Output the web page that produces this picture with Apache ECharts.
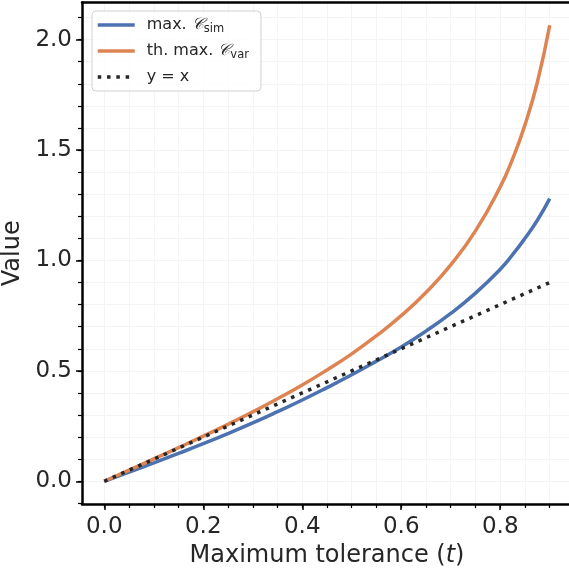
<!DOCTYPE html>
<html>
<head>
<meta charset="utf-8">
<script src="https://cdn.jsdelivr.net/npm/echarts@6/dist/echarts.min.js"></script>
<style>html,body{margin:0;padding:0;background:#fff}#c{width:569px;height:569px}</style>
</head>
<body>
<div id="c"></div>
<script>
const tValues   = [0, 0.05, 0.1, 0.15, 0.2, 0.25, 0.3, 0.35, 0.4, 0.45, 0.5, 0.55, 0.6, 0.65, 0.7, 0.75, 0.8, 0.825, 0.85, 0.875, 0.9];
const maxCsim   = [0, 0.041, 0.083, 0.126, 0.170, 0.216, 0.264, 0.315, 0.368, 0.424, 0.482, 0.544, 0.608, 0.680, 0.760, 0.852, 0.960, 1.026, 1.100, 1.182, 1.280];
const thMaxCvar = [0, 0.050, 0.101, 0.152, 0.204, 0.258, 0.314, 0.374, 0.436, 0.504, 0.577, 0.659, 0.750, 0.855, 0.980, 1.134, 1.333, 1.460, 1.614, 1.807, 2.065];
const identityX = [0, 0.9];
const identityY = [0, 0.9];
const xTickLabels = [0, 0.2, 0.4, 0.6, 0.8];
const yTickLabels = [0, 0.5, 1.0, 1.5, 2.0];
const xMinorTicks = [0, 0.05, 0.1, 0.15, 0.2, 0.25, 0.3, 0.35, 0.4, 0.45, 0.5, 0.55, 0.6, 0.65, 0.7, 0.75, 0.8, 0.85, 0.9];
const yMinorTicks = [-0.1, 0, 0.1, 0.2, 0.3, 0.4, 0.5, 0.6, 0.7, 0.8, 0.9, 1.0, 1.1, 1.2, 1.3, 1.4, 1.5, 1.6, 1.7, 1.8, 1.9, 2.0, 2.1];

const X_MIN = -0.045, X_MAX = 0.945, Y_MIN = -0.103, Y_MAX = 2.168;
const FONT = 'DejaVu Sans';
const TXT = '#262626';
const zip = (a, b) => a.map((v, i) => [v, b[i]]);

const chart = echarts.init(document.getElementById('c'), null, {renderer: 'canvas'});
const baseAxis = {type: 'value', min: X_MIN, max: X_MAX};
chart.setOption({
  animation: false,
  backgroundColor: '#ffffff',
  grid: {left: 82, top: 2.5, width: 490, height: 501.5, containLabel: false, outerBoundsMode: 'none'},
  xAxis: [
    Object.assign({}, baseAxis, {
      position: 'bottom',
      name: '{n|Maximum tolerance (}{i|t}{n|)}',
      nameLocation: 'middle', nameGap: 39,
      nameTextStyle: {fontFamily: FONT, fontSize: 24, color: TXT,
        rich: {
          n: {fontFamily: FONT, fontSize: 24, color: TXT},
          i: {fontFamily: FONT, fontSize: 24, color: TXT, fontStyle: 'italic'}
        }},
      axisLine: {show: true, onZero: false, lineStyle: {color: '#000', width: 2.5}},
      axisTick: {show: true, customValues: xTickLabels, length: 6, lineStyle: {color: '#000', width: 1.5}},
      axisLabel: {show: true, customValues: xTickLabels, margin: 12, fontFamily: FONT, fontSize: 23, color: TXT,
        formatter: v => v.toFixed(1)},
      splitLine: {show: false}
    }),
    Object.assign({}, baseAxis, {
      position: 'bottom',
      axisLine: {show: false, onZero: false},
      axisTick: {show: true, customValues: xMinorTicks, length: 4, lineStyle: {color: '#000', width: 1.2}},
      axisLabel: {show: false},
      splitLine: {show: true, lineStyle: {color: '#f4f4f4', width: 1}}
    }),
    Object.assign({}, baseAxis, {
      position: 'top',
      axisLine: {show: true, onZero: false, lineStyle: {color: '#000', width: 2.5}},
      axisTick: {show: false}, axisLabel: {show: false}, splitLine: {show: false}
    })
  ],
  yAxis: [
    {
      type: 'value', min: Y_MIN, max: Y_MAX, position: 'left',
      name: 'Value', nameLocation: 'middle', nameGap: 51, nameRotate: 90,
      nameTextStyle: {fontFamily: FONT, fontSize: 24, color: TXT},
      axisLine: {show: true, onZero: false, lineStyle: {color: '#000', width: 2.5}},
      axisTick: {show: true, customValues: yTickLabels, length: 6, lineStyle: {color: '#000', width: 1.5}},
      axisLabel: {show: true, customValues: yTickLabels, margin: 10, fontFamily: FONT, fontSize: 23, color: TXT,
        formatter: v => v.toFixed(1)},
      splitLine: {show: false}
    },
    {
      type: 'value', min: Y_MIN, max: Y_MAX, position: 'left',
      axisLine: {show: false, onZero: false},
      axisTick: {show: true, customValues: yMinorTicks, length: 4, lineStyle: {color: '#000', width: 1.2}},
      axisLabel: {show: false},
      splitLine: {show: true, lineStyle: {color: '#f4f4f4', width: 1}}
    }
  ],
  legend: {
    orient: 'vertical', left: 92, top: 11,
    padding: [6, 12, 6, 4],
    itemWidth: 37, itemHeight: 10, itemGap: 8,
    backgroundColor: 'rgba(255,255,255,0.8)',
    borderColor: '#d0d0d0', borderWidth: 1, borderRadius: 4,
    itemStyle: {opacity: 0},
    lineStyle: {width: 3.5, cap: 'butt'},
    textStyle: {fontFamily: FONT, fontSize: 16, color: TXT, padding: [0, 0, 0, 7],
      rich: {
        n: {fontFamily: FONT, fontSize: 16, color: TXT},
        c: {fontFamily: FONT, fontSize: 16, color: TXT, fontStyle: 'italic'},
        s: {fontFamily: FONT, fontSize: 11.5, color: TXT, padding: [8, 0, 0, 0]}
      }},
    formatter: function (name) {
      if (name === 'max. Csim') return '{n|max. }{c|𝒞}{s|sim}';
      if (name === 'th. max. Cvar') return '{n|th. max. }{c|𝒞}{s|var}';
      return '{n|y = x}';
    },
    data: ['max. Csim', 'th. max. Cvar', 'y = x']
  },
  series: [
    {name: 'max. Csim', type: 'line', xAxisIndex: 0, yAxisIndex: 0, data: zip(tValues, maxCsim),
      showSymbol: false, symbol: 'none', smooth: 0.5, lineStyle: {color: '#4c72b0', width: 3.5}, itemStyle: {color: '#4c72b0'}, z: 3},
    {name: 'th. max. Cvar', type: 'line', xAxisIndex: 0, yAxisIndex: 0, data: zip(tValues, thMaxCvar),
      showSymbol: false, symbol: 'none', smooth: 0.5, lineStyle: {color: '#dd8452', width: 3.5}, itemStyle: {color: '#dd8452'}, z: 4},
    {name: 'y = x', type: 'line', xAxisIndex: 0, yAxisIndex: 0, data: zip(identityX, identityY),
      showSymbol: false, symbol: 'none', lineStyle: {color: '#262626', width: 3.5, type: [3.5, 5.8], cap: 'butt'}, itemStyle: {color: '#262626'}, z: 5}
  ]
});
</script>
</body>
</html>
